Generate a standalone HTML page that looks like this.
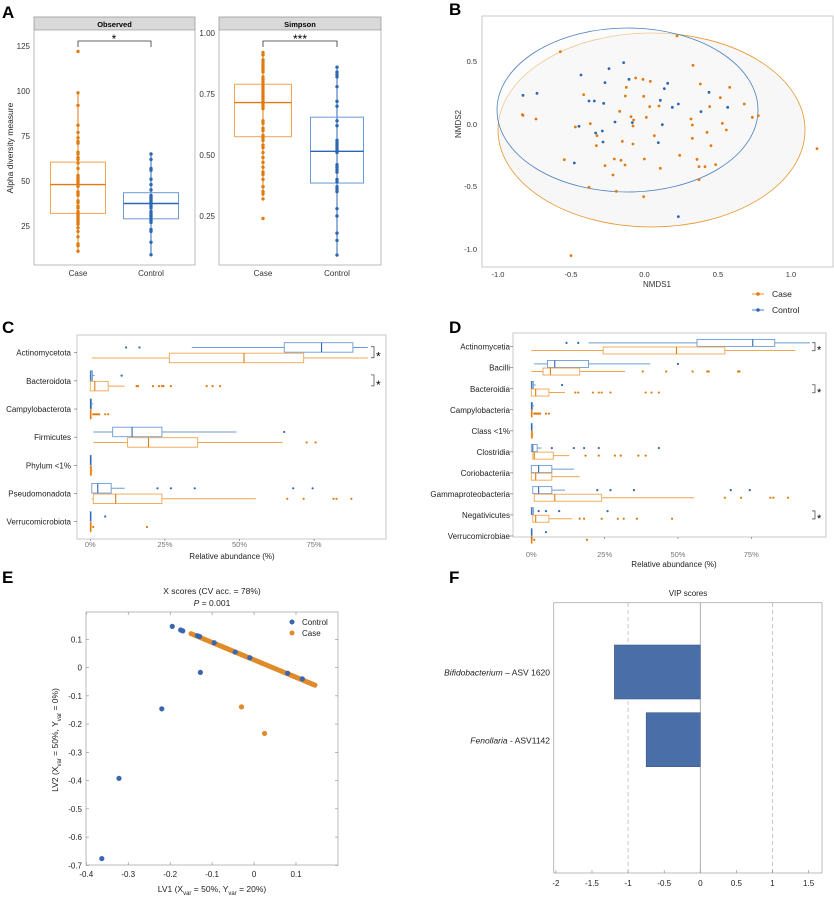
<!DOCTYPE html>
<html><head><meta charset="utf-8"><style>
html,body{margin:0;padding:0;background:#fff}
svg{display:block;font-family:"Liberation Sans",Arial,sans-serif}
</style></head><body>
<svg id="s" width="834" height="900" viewBox="0 0 834 900" xmlns="http://www.w3.org/2000/svg">
<g font-weight="bold" font-size="17" fill="#000">
<text x="2" y="18">A</text><text x="449" y="15">B</text>
<text x="2" y="333">C</text><text x="449" y="333">D</text>
<text x="2" y="583">E</text><text x="449" y="583">F</text>
</g>
<!-- Panel A -->
<rect x="34" y="17" width="161" height="13" fill="#d9d9d9" stroke="#999" stroke-width="0.8"/>
<text x="114.5" y="27" font-size="7.5" font-weight="bold" text-anchor="middle">Observed</text>
<rect x="34" y="30" width="161" height="235" fill="#fff" stroke="#aaa" stroke-width="0.8"/>
<rect x="219" y="17" width="162" height="13" fill="#d9d9d9" stroke="#999" stroke-width="0.8"/>
<text x="300" y="27" font-size="7.5" font-weight="bold" text-anchor="middle">Simpson</text>
<rect x="219" y="30" width="162" height="235" fill="#fff" stroke="#aaa" stroke-width="0.8"/>
<g font-size="8" fill="#333" text-anchor="end">
<text x="30" y="49">125</text><text x="30" y="94">100</text><text x="30" y="139">75</text><text x="30" y="184">50</text><text x="30" y="229">25</text>
<text x="215" y="36">1.00</text><text x="215" y="97">0.75</text><text x="215" y="158">0.50</text><text x="215" y="219">0.25</text>
</g>
<g font-size="8" fill="#333" text-anchor="middle">
<text x="78" y="276">Case</text><text x="151" y="276">Control</text>
<text x="263" y="276">Case</text><text x="337" y="276">Control</text>
</g>
<text transform="translate(13,148) rotate(-90)" font-size="8.5" text-anchor="middle" fill="#222">Alpha diversity measure</text>
<path d="M78,47V41H151V47M263,47V41H337V47" fill="none" stroke="#333" stroke-width="0.8"/>
<text x="114" y="43" font-size="12" text-anchor="middle">*</text>
<text x="300" y="43" font-size="12" text-anchor="middle">***</text>
<g id="A"></g>
<!-- Panel B -->
<rect x="482" y="16" width="351" height="251" fill="#fff" stroke="#bbb" stroke-width="0.8"/>
<ellipse cx="651.5" cy="130" rx="153.5" ry="97" fill="#f7f7f7" stroke="#e8952f" stroke-width="0.8"/>
<ellipse cx="627.5" cy="110" rx="130.5" ry="82" fill="#f9f9f9" fill-opacity="0.5" stroke="#4a7fc0" stroke-width="0.8"/>
<g id="B"></g>
<g font-size="7.5" fill="#333" text-anchor="end">
<text x="477" y="64">0.5</text><text x="477" y="127">0.0</text><text x="477" y="189">-0.5</text><text x="477" y="252">-1.0</text>
</g>
<g font-size="7.5" fill="#333" text-anchor="middle">
<text x="498" y="277">-1.0</text><text x="571" y="277">-0.5</text><text x="644.5" y="277">0.0</text><text x="718" y="277">0.5</text><text x="791" y="277">1.0</text>
</g>
<text x="657" y="287" font-size="8" text-anchor="middle" fill="#333">NMDS1</text>
<text transform="translate(461,124) rotate(-90)" font-size="8" text-anchor="middle" fill="#333">NMDS2</text>
<line x1="752" y1="294" x2="764" y2="294" stroke="#e8952f"/><circle cx="758" cy="294" r="1.8" fill="#e07b10"/>
<text x="772" y="297" font-size="8.5" fill="#222">Case</text>
<line x1="752" y1="310" x2="764" y2="310" stroke="#4a7fc0"/><circle cx="758" cy="310" r="1.8" fill="#2d67b3"/>
<text x="772" y="313" font-size="8.5" fill="#222">Control</text>
<!-- Panel C -->
<rect x="77" y="335" width="309" height="204" fill="#fff" stroke="#bbb" stroke-width="0.8"/>
<g id="C"></g>
<!-- Panel D -->
<rect x="513" y="333" width="313" height="204" fill="#fff" stroke="#bbb" stroke-width="0.8"/>
<g id="D"></g>
<!-- Panel E -->
<text x="212" y="594" font-size="8.5" text-anchor="middle" fill="#222">X scores (CV acc. = 78%)</text>
<text x="212" y="606" font-size="8.5" text-anchor="middle" fill="#222"><tspan font-style="italic">P</tspan> = 0.001</text>
<rect x="86" y="612" width="252" height="253" fill="#fff" stroke="#aaa" stroke-width="0.8"/>
<g id="E"></g>
<circle cx="292" cy="622" r="2.5" fill="#3a66b0"/><text x="302" y="625" font-size="8" fill="#222">Control</text>
<circle cx="292" cy="633" r="2.5" fill="#e08a2a"/><text x="302" y="636" font-size="8" fill="#222">Case</text>
<text x="212" y="892" font-size="8.5" text-anchor="middle" fill="#222">LV1 (X<tspan font-size="6" dy="3">var</tspan><tspan dy="-3"> = 50%, Y</tspan><tspan font-size="6" dy="3">var</tspan><tspan dy="-3"> = 20%)</tspan></text>
<text transform="translate(58,740) rotate(-90)" font-size="8.5" text-anchor="middle" fill="#222">LV2 (X<tspan font-size="6" dy="3">var</tspan><tspan dy="-3"> = 50%, Y</tspan><tspan font-size="6" dy="3">var</tspan><tspan dy="-3"> = 0%)</tspan></text>
<!-- Panel F -->
<text x="688" y="596" font-size="8" text-anchor="middle" fill="#222">VIP scores</text>
<rect x="553.7" y="602.7" width="268.3" height="270.3" fill="#fff" stroke="#aaa" stroke-width="0.8"/>
<line x1="628.1" y1="603" x2="628.1" y2="873" stroke="#bbb" stroke-dasharray="4,3" stroke-width="0.8"/>
<line x1="772.5" y1="603" x2="772.5" y2="873" stroke="#bbb" stroke-dasharray="4,3" stroke-width="0.8"/>
<line x1="700.3" y1="603" x2="700.3" y2="873" stroke="#999" stroke-width="0.8"/>
<rect x="614.4" y="645" width="85.9" height="54" fill="#4a6fa8" stroke="#3a5a8a" stroke-width="0.6"/>
<rect x="646.2" y="712.7" width="54.1" height="54" fill="#4a6fa8" stroke="#3a5a8a" stroke-width="0.6"/>
<text x="550" y="675.5" font-size="8.5" text-anchor="end" fill="#222"><tspan font-style="italic">Bifidobacterium</tspan> – ASV 1620</text>
<text x="550" y="743.5" font-size="8.5" text-anchor="end" fill="#222"><tspan font-style="italic">Fenollaria</tspan> - ASV1142</text>
<g id="F" font-size="8" fill="#222" text-anchor="middle"></g>
</svg>
<script>
var NS="http://www.w3.org/2000/svg";
function el(p,t,a,txt){var e=document.createElementNS(NS,t);for(var k in a)e.setAttribute(k,a[k]);if(txt!=null)e.textContent=txt;document.getElementById(p).appendChild(e);return e;}
var OR="#e07b10",BL="#2d67b3",ORB="#f0a550",BLB="#6b9ad6";
// A
function ay(v){return 226-(v-25)*1.8;}
function sy(v){return 33+(1-v)*244;}
function boxV(g,cx,w,q1,q3,med,lo,hi,col,bc,f){
 el(g,"line",{x1:cx,x2:cx,y1:f(hi),y2:f(lo),stroke:col,"stroke-width":1});
 el(g,"rect",{x:cx-w/2,y:f(q3),width:w,height:f(q1)-f(q3),fill:"none",stroke:bc,"stroke-width":1});
 el(g,"line",{x1:cx-w/2,x2:cx+w/2,y1:f(med),y2:f(med),stroke:col,"stroke-width":1.4});
}
boxV("A",78,55,32,60.5,48,11,99,OR,ORB,ay);
boxV("A",151,55,29,43.5,37.5,9,65,BL,BLB,ay);
boxV("A",263,57,.575,.79,.715,.33,.92,OR,ORB,sy);
boxV("A",337,53,.385,.655,.515,.09,.86,BL,BLB,sy);
[122,99,92,81,77,74,72,71,66,65,63,62,60,57,53,52,51,50,49,48,47,44,43,42,39,38,36,35,33,32,31,30,29,28,27,26,24,22,19,15,14,11].forEach(function(v){el("A","circle",{cx:78,cy:ay(v),r:1.7,fill:OR});});
[65,62,57,56,51,48,45,42,41,40,39,38,37,36,35,33,32,31,30,29,28,27,23,22,16,9].forEach(function(v){el("A","circle",{cx:151,cy:ay(v),r:1.7,fill:BL});});
[.92,.91,.89,.88,.87,.86,.85,.84,.82,.81,.80,.79,.78,.77,.76,.75,.74,.73,.72,.71,.70,.69,.64,.63,.61,.60,.58,.57,.56,.54,.53,.51,.49,.47,.45,.43,.42,.40,.37,.35,.34,.32,.24].forEach(function(v){el("A","circle",{cx:263,cy:sy(v),r:1.7,fill:OR});});
[.86,.84,.83,.82,.78,.72,.70,.64,.62,.56,.55,.54,.53,.52,.51,.46,.45,.44,.43,.40,.39,.37,.36,.35,.28,.25,.18,.15,.09].forEach(function(v){el("A","circle",{cx:337,cy:sy(v),r:1.7,fill:BL});});
// B
var bo=[[430,155],[780,108],[828,196],[500,284],[316,344],[318,346],[357,357],[475,381],[520,371],[628,262],[656,234],[678,238],[700,244],[625,288],[680,289],[608,334],[642,350],[650,360],[648,378],[688,352],[698,320],[726,318],[850,252],[938,262],[910,293],[878,320],[982,312],[1006,352],[1024,347],[822,357],[826,375],[916,370],[928,390],[826,415],[870,397],[882,437],[712,407],[616,424],[648,432],[540,407],[538,437],[442,479],[564,497],[592,477],[612,481],[624,495],[682,477],[730,505],[788,466],[840,478],[846,500],[864,500],[896,494],[846,539],[588,525],[598,574],[516,562],[680,590],[462,767],[1200,446]];
var bb=[[318,286],[360,280],[492,225],[576,206],[620,188],[564,248],[516,303],[532,303],[560,310],[636,238],[742,266],[752,250],[730,301],[766,322],[784,312],[876,277],[852,335],[932,322],[594,366],[646,368],[736,374],[486,379],[536,399],[556,393],[558,426],[724,428],[472,489],[784,650]];
bo.forEach(function(p){el("B","circle",{cx:417+p[0]/3,cy:p[1]/3,r:1.4,fill:OR});});
bb.forEach(function(p){el("B","circle",{cx:417+p[0]/3,cy:p[1]/3,r:1.4,fill:BL});});
// horizontal boxplots
function hrow(g,X,yb,h,d,col,bc){
 // d=[wlo,whi,q1,q3,med,outs]
 var y0=yb,ym=yb+h/2;
 el(g,"line",{x1:X(d[0]),x2:X(d[1]),y1:ym,y2:ym,stroke:bc,"stroke-width":1});
 var w=Math.max(X(d[3])-X(d[2]),0.8);
 el(g,"rect",{x:X(d[2]),y:y0,width:w,height:h,fill:"#fff",stroke:bc,"stroke-width":0.9});
 el(g,"line",{x1:X(d[4]),x2:X(d[4]),y1:y0,y2:y0+h,stroke:col,"stroke-width":1.1});
 (d[5]||[]).forEach(function(o){el(g,"circle",{cx:X(o),cy:ym,r:1.1,fill:col});});
}
var T=[0,0,0,0.3,0.1,[]],Ti=[0,0.5,0,0.5,0.2,[1]];
// C
function XC(p){return 90.3+p*2.984;}
var Cn=["Actinomycetota","Bacteroidota","Campylobacterota","Firmicutes","Phylum <1%","Pseudomonadota","Verrucomicrobiota"];
var Cb=[[34,93,65,88,77.5,[12,16.5]],[0,1.5,0,0.7,0.2,[10.5]],[0,1,0,0.4,0.1,[]],[1,49,7.5,24,14,[65]],[0,0.5,0,0.3,0.1,[]],[0.5,11.5,0.5,7,2.5,[22.5,27,35,68,74.5]],[0,0.3,0,0.2,0.1,[5]]];
var Co=[[0.5,93,26.5,71.5,51.5,[]],[0,11.5,0,6,1.5,[15.5,16,21,23,24,24.5,27,39,41,43.5]],[0,0.5,0,0.3,0.1,[1,1.5,2,2.5,3,5,6]],[1,64.5,12.5,36,19.5,[72.5,75.5]],[0,0.8,0,0.4,0.2,[]],[0.5,55.5,1,24,8.5,[66,71.5,81.5,82.5,87.5]],[0,0.5,0,0.3,0.1,[1,19]]];
for(var i=0;i<7;i++){var ly=352.7+i*28.17;
 el("C","text",{x:71,y:ly+3,"font-size":8,"text-anchor":"end",fill:"#222"},Cn[i]);
 el("C","line",{x1:74,x2:77,y1:ly,y2:ly,stroke:"#666","stroke-width":0.6});
 hrow("C",XC,ly-10,9.5,Cb[i],BL,BLB);hrow("C",XC,ly+0.5,9.5,Co[i],OR,ORB);}
[0,1].forEach(function(i){var ly=352.7+i*28.17;el("C","path",{d:"M371,"+(ly-6)+"h3v11h-3",fill:"none",stroke:"#555","stroke-width":0.8});el("C","text",{x:376,y:ly+8,"font-size":12},"*");});
[0,25,50,75].forEach(function(p){el("C","text",{x:XC(p),y:547,"font-size":7.5,"text-anchor":"middle",fill:"#777"},p+"%");el("C","line",{x1:XC(p),x2:XC(p),y1:539,y2:541,stroke:"#666","stroke-width":0.6});});
el("C","text",{x:232,y:559,"font-size":8,"text-anchor":"middle",fill:"#222"},"Relative abundance (%)");
// D
function XD(p){return 531.3+p*2.933;}
var Dn=["Actinomycetia","Bacilli","Bacteroidia","Campylobacteria","Class <1%","Clostridia","Coriobacteriia","Gammaproteobacteria","Negativicutes","Verrucomicrobiae"];
var Db=[[19.5,95,56.5,83,75.5,[12,16]],[1,40.5,5.5,19.5,8,[50]],[0,1.5,0,0.7,0.2,[10.5]],[0,1,0,0.4,0.1,[]],[0,0.5,0,0.3,0.1,[]],[0,3.5,0,2,0.5,[7,14.5,18,23,43.5]],[0,14.5,0,7,2.5,[]],[0.5,11.5,0.5,7,2.5,[22.5,27,35,68,74.5]],[0,1,0,0.7,0.2,[2.5,5,9.5,26]],[0,0.3,0,0.2,0.1,[5]]];
var Do=[[0,90,24.5,66,49.5,[]],[0,32,4,16.5,6.5,[38,46,55,60,60.5,70.5,71]],[0,11.5,0,6,1.5,[15,16,21,23,24,27,39,41,43.5]],[0,0.5,0,0.3,0.1,[1,1.5,2,2.5,3,5,6]],[0,0.8,0,0.4,0.2,[]],[0.5,13,0.5,7.5,1,[18.5,23,28.5,30.5,36.5,39]],[0,16.5,0,7,1.5,[]],[1,55.5,1,24,8,[66,71.5,81.5,82.5,87.5]],[0.5,14,0.5,6,1.5,[16.5,18,24,29.5,31.5,36,48]],[0,0.5,0,0.3,0.1,[1,19]]];
for(var i=0;i<10;i++){var ly=346.7+i*21.03;
 el("D","text",{x:510,y:ly+3,"font-size":8,"text-anchor":"end",fill:"#222"},Dn[i]);
 el("D","line",{x1:510,x2:513,y1:ly,y2:ly,stroke:"#666","stroke-width":0.6});
 hrow("D",XD,ly-7.3,7,Db[i],BL,BLB);hrow("D",XD,ly+0.3,7,Do[i],OR,ORB);}
[0,2,8].forEach(function(i){var ly=346.7+i*21.03;el("D","path",{d:"M812,"+(ly-4)+"h3v8h-3",fill:"none",stroke:"#555","stroke-width":0.8});el("D","text",{x:817,y:ly+7,"font-size":11},"*");});
[0,25,50,75].forEach(function(p){el("D","text",{x:XD(p),y:557,"font-size":7.5,"text-anchor":"middle",fill:"#777"},p+"%");el("D","line",{x1:XD(p),x2:XD(p),y1:537,y2:539,stroke:"#666","stroke-width":0.6});});
el("D","text",{x:674,y:567,"font-size":8,"text-anchor":"middle",fill:"#222"},"Relative abundance (%)");
// E
function ex(v){return 86.3+(v+0.4)*419.4;} function ey(v){return 667.6-v*282.5;}
[0.1,0,-0.1,-0.2,-0.3,-0.4,-0.5,-0.6,-0.7].forEach(function(v){var y=ey(v);el("E","text",{x:82,y:y+3,"font-size":8,"text-anchor":"end",fill:"#222"},v==0?"0":String(v));el("E","line",{x1:86,x2:89,y1:y,y2:y,stroke:"#888","stroke-width":0.6});el("E","line",{x1:335,x2:338,y1:y,y2:y,stroke:"#888","stroke-width":0.6});});
[-0.4,-0.3,-0.2,-0.1,0,0.1].forEach(function(v){var x=ex(v);el("E","text",{x:x,y:877,"font-size":8,"text-anchor":"middle",fill:"#222"},v==0?"0":String(v));el("E","line",{x1:x,x2:x,y1:862,y2:865,stroke:"#888","stroke-width":0.6});el("E","line",{x1:x,x2:x,y1:612,y2:615,stroke:"#888","stroke-width":0.6});});
for(var x=-0.15;x<=0.146;x+=0.005){var y=0.12-0.617*(x+0.15);el("E","circle",{cx:ex(x),cy:ey(y),r:2.6,fill:"#e08a2a"});}
[[-0.03,-0.139],[0.025,-0.233]].forEach(function(p){el("E","circle",{cx:ex(p[0]),cy:ey(p[1]),r:2.6,fill:"#e08a2a"});});
[[-0.195,0.146],[-0.175,0.133],[-0.17,0.13],[-0.135,0.113],[-0.13,0.11],[-0.095,0.088],[-0.045,0.055],[-0.01,0.035],[0.08,-0.02],[0.115,-0.04],[-0.128,-0.017],[-0.22,-0.146],[-0.322,-0.392],[-0.363,-0.676]].forEach(function(p){el("E","circle",{cx:ex(p[0]),cy:ey(p[1]),r:2.6,fill:"#3a66b0"});});
// F ticks
[-2,-1.5,-1,-0.5,0,0.5,1,1.5].forEach(function(v){var x=700.3+v*72.2;el("F","text",{x:x,y:886},String(v));el("F","line",{x1:x,x2:x,y1:870,y2:873,stroke:"#888","stroke-width":0.6});});
</script>
</body></html>
